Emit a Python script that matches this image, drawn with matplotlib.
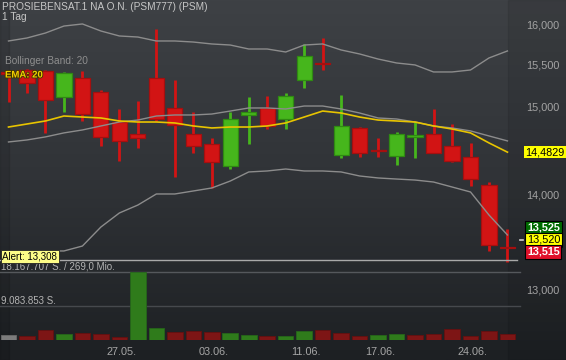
import numpy as np
import matplotlib
matplotlib.use("Agg")
import matplotlib.pyplot as plt
from matplotlib import transforms
from matplotlib.colors import LinearSegmentedColormap
from matplotlib.patches import Rectangle
import matplotlib.patheffects as pe

plt.rcParams['font.family'] = ['Liberation Sans', 'DejaVu Sans']

# daily candles (EUR)
opens  = [15.422, 15.446, 15.434, 15.123, 15.349, 15.182, 14.829, 14.691, 15.349, 14.993,
          14.691, 14.576, 14.327, 14.911, 14.993, 14.864, 15.325, 15.531, 14.451, 14.760,
          14.507, 14.439, 14.657, 14.691, 14.553, 14.428, 14.115, 13.446]
highs  = [15.446, 15.458, 15.446, 15.422, 15.434, 15.206, 14.981, 15.075, 15.950, 15.325,
          14.946, 14.645, 14.946, 15.123, 15.135, 15.170, 15.764, 15.838, 15.147, 14.771,
          14.645, 14.714, 14.829, 14.981, 14.806, 14.588, 14.148, 13.637]
lows   = [15.063, 15.170, 14.703, 14.946, 14.841, 14.553, 14.383, 14.530, 14.841, 14.204,
          14.473, 14.082, 14.293, 14.576, 14.748, 14.748, 15.230, 15.446, 14.417, 14.428,
          14.428, 14.338, 14.417, 14.473, 14.372, 14.104, 13.404, 13.289]
closes = [15.398, 15.289, 15.087, 15.410, 14.922, 14.657, 14.611, 14.645, 14.864, 14.795,
          14.553, 14.372, 14.864, 14.946, 14.783, 15.135, 15.616, 15.519, 14.783, 14.473,
          14.496, 14.691, 14.680, 14.473, 14.383, 14.181, 13.467, 13.440]
volumes = [1420000, 1070000, 2670000, 1600000, 1870000, 1600000, 890000, 18167707, 3200000, 2140000,
           2400000, 2050000, 1870000, 1420000, 1070000, 1070000, 2500000, 2600000, 1870000, 980000,
           1340000, 1500000, 1250000, 1500000, 3000000, 980000, 2300000, 1500000]

# bollinger band 20 and ema 20
bb_upper = [15.801, 15.838, 15.900, 15.987, 16.013, 15.925, 15.863, 15.850, 15.801, 15.801,
            15.788, 15.764, 15.751, 15.702, 15.702, 15.665, 15.751, 15.764, 15.690, 15.641,
            15.579, 15.531, 15.507, 15.422, 15.422, 15.446, 15.592, 15.678]
bb_mid   = [14.599, 14.622, 14.657, 14.703, 14.737, 14.783, 14.829, 14.852, 14.899, 14.911,
            14.911, 14.922, 14.957, 14.993, 14.993, 14.981, 15.016, 15.016, 14.981, 14.934,
            14.876, 14.864, 14.829, 14.783, 14.760, 14.726, 14.668, 14.611]
bb_lower = [13.404, 13.404, 13.404, 13.404, 13.456, 13.658, 13.809, 13.895, 14.016, 14.016,
            14.049, 14.082, 14.159, 14.260, 14.271, 14.293, 14.271, 14.271, 14.260, 14.215,
            14.193, 14.181, 14.170, 14.148, 14.093, 14.038, 13.787, 13.573]
ema20    = [14.771, 14.806, 14.841, 14.899, 14.887, 14.876, 14.841, 14.829, 14.829, 14.818,
            14.783, 14.760, 14.771, 14.771, 14.783, 14.818, 14.887, 14.957, 14.934, 14.887,
            14.852, 14.841, 14.829, 14.783, 14.748, 14.703, 14.588, 14.4829]

tick_idx = [6, 11, 16, 20, 25]
tick_labels = ['27.05.', '03.06.', '11.06.', '17.06.', '24.06.']
price_ticks = [13.0, 14.0, 15.0, 15.5, 16.0]

alert = 13.308
ask, last, bid = 13.525, 13.520, 13.515
title = 'PROSIEBENSAT.1 NA O.N. (PSM777) (PSM)'
turnover = '269,0 Mio.'

W, H = 566, 360
def fx(x):
    return x / W
def fy(y):
    return 1 - y / H
def de(v, n=3):
    return f'{v:.{n}f}'.replace('.', ',')

fig = plt.figure(figsize=(5.66, 3.6), dpi=100)

# dark gradient background
bg = fig.add_axes([0, 0, 1, 1])
grad = np.linspace(0, 1, 256).reshape(-1, 1)
cmap = LinearSegmentedColormap.from_list('bg', ['#3e4145', '#303337', '#1d2023'])
bg.imshow(grad, aspect='auto', cmap=cmap, extent=[0, 1, 0, 1])
bg.add_patch(Rectangle((0, 0), fx(9), 1, color='black', alpha=0.10))
bg.add_patch(Rectangle((fx(508), 0), 1 - fx(508), 1, color='black', alpha=0.08))
bg.set_xlim(0, 1)
bg.set_ylim(0, 1)
bg.axis('off')

step = 18.48
xlim = (-8.5 / step, (520 - 8.5) / step)
x = np.arange(len(opens))

# price panel (log scale)
ax = fig.add_axes([0, fy(345), fx(520), 345 / H])
ax.set_yscale('log')
ax.set_xlim(*xlim)
ax.set_ylim(12.452, 16.3165)
ax.axis('off')

o = np.array(opens); c = np.array(closes)
up = c >= o
for i in x:
    fill = '#46b61c' if up[i] else '#d21414'
    edge = '#2f8a12' if up[i] else '#a50f0f'
    ax.vlines(i, lows[i], highs[i], color=fill, lw=2, zorder=2)
    lo, hi = min(o[i], c[i]), max(o[i], c[i])
    ax.bar(i, hi - lo, bottom=lo, width=0.82, color=fill, edgecolor=edge, lw=0.9, zorder=3)

ax.plot(x, bb_upper, color='#8c8c8c', lw=1, zorder=4)
ax.plot(x, bb_mid, color='#8c8c8c', lw=1, zorder=4)
ax.plot(x, bb_lower, color='#8c8c8c', lw=1, zorder=4)
ax.plot(x, ema20, color='#e8c400', lw=1.2, zorder=5)
ax.axhline(alert, xmin=0, xmax=517 / 520, color='#a9a9a9', lw=1, zorder=4)

# right hand price labels
ytr = transforms.blended_transform_factory(fig.transFigure, ax.transData)
for t in price_ticks:
    ax.text(fx(543), t, de(t), transform=ytr, ha='center', va='center',
            fontsize=7.8, color='#a4a4a4', clip_on=False)
ax.text(fx(525), ema20[-1], de(ema20[-1], 4), transform=ytr, ha='left', va='center',
        fontsize=7.8, color='black', clip_on=False,
        bbox=dict(boxstyle='square,pad=0.12', fc='#ffff00', ec='none'))
ax.plot([fx(520), fx(523)], [last, last], transform=ytr, color='#d0d0d0', lw=1.2, clip_on=False)
off = 12 / 345 * np.log(16.3165 / 12.452)
for val, yy, fc, tc in [(ask, last * np.exp(off), '#006b00', 'white'),
                        (last, last, '#ffff00', 'black'),
                        (bid, last * np.exp(-off), '#e0102a', 'white')]:
    ax.text(fx(527), yy, de(val), transform=ytr, ha='left', va='center', fontsize=7.8,
            color=tc, weight='bold' if tc == 'white' else 'normal', clip_on=False,
            bbox=dict(boxstyle='square,pad=0.15', fc=fc, ec='black', lw=0.8))

# volume panel
vax = fig.add_axes([0, fy(340), fx(520), (340 - 272) / H])
vax.set_xlim(*xlim)
vmax = max(volumes)
vax.set_ylim(0, vmax)
vax.axis('off')
vcol = ['#7c7c7c'] + ['#2f7b1b' if closes[i] >= closes[i - 1] else '#7d1515' for i in range(1, len(closes))]
vedge = ['#6a6a6a'] + ['#25661a' if closes[i] >= closes[i - 1] else '#651010' for i in range(1, len(closes))]
vax.bar(x, volumes, width=0.84, color=vcol, edgecolor=vedge, lw=0.6, zorder=3)
vax.axhline(vmax, color='#55585c', lw=1, zorder=1, clip_on=False)
vax.axhline(vmax / 2, color='#46494d', lw=1, zorder=1, clip_on=False)

# date labels
xtr = transforms.blended_transform_factory(ax.transData, fig.transFigure)
for i, lab in zip(tick_idx, tick_labels):
    ax.text(i + 0.1, fy(355), lab, transform=xtr, ha='center', va='baseline',
            fontsize=7.8, color='#a6a6a6', clip_on=False)

# header and legend texts
fig.text(fx(1.5), fy(10), title, fontsize=7.3, color='#c6c6c6', va='baseline')
fig.text(fx(1.5), fy(20), '1 Tag', fontsize=7.3, color='#c6c6c6', va='baseline')
fig.text(fx(5), fy(64.3), 'Bollinger Band: 20', fontsize=7.3, color='#8e8e8e', va='baseline')
fig.text(fx(5), fy(77.5), 'EMA: 20', fontsize=6.9, color='#f2d000', weight='bold', va='baseline',
         zorder=10, path_effects=[pe.withStroke(linewidth=1.2, foreground='#3c3200')])
fig.text(fx(2.5), fy(256.5), 'Alert: ' + de(alert), fontsize=7, color='black', va='center', zorder=10,
         bbox=dict(boxstyle='square,pad=0.15', fc='#fdfd88', ec='#222222', lw=0.6))
fig.text(fx(1), fy(269.3), f'{vmax:,}'.replace(',', '.') + ' S. / ' + turnover, fontsize=7,
         color='#b4b4b4', va='baseline')
fig.text(fx(1), fy(304), f'{vmax // 2:,}'.replace(',', '.') + ' S.', fontsize=7,
         color='#b4b4b4', va='baseline')

fig.savefig('out.png', dpi=100)
